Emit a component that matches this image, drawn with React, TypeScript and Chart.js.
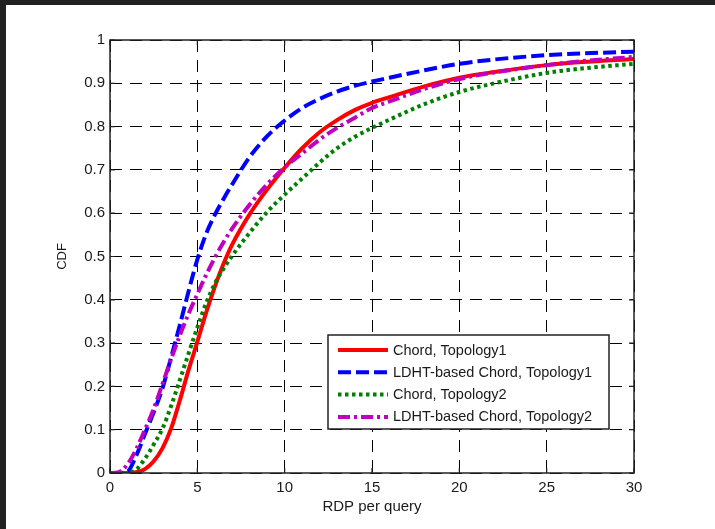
import React, { useEffect, useRef } from "react";
import { Chart, registerables } from "chart.js";

Chart.register(...registerables);

// RDP per query (x) sample positions
const rdpValues = [0, 0.5, 1, 1.5, 2, 2.5, 3, 3.5, 4, 4.5, 5, 5.5, 6, 6.5, 7, 8, 9, 10, 11, 12, 13, 14, 15, 16, 18, 20, 22, 25, 27, 30];

// CDF values
const chordTopology1 = [0, 0, 0, 0.002, 0.009, 0.027, 0.057, 0.103, 0.168, 0.238, 0.303, 0.37, 0.43, 0.483, 0.528, 0.598, 0.655, 0.705, 0.75, 0.787, 0.815, 0.838, 0.855, 0.868, 0.893, 0.913, 0.926, 0.942, 0.949, 0.956];
const ldhtTopology1 = [0, 0, 0.003, 0.04, 0.09, 0.14, 0.195, 0.267, 0.342, 0.42, 0.493, 0.552, 0.596, 0.633, 0.667, 0.73, 0.778, 0.814, 0.843, 0.864, 0.881, 0.894, 0.904, 0.913, 0.93, 0.945, 0.955, 0.965, 0.969, 0.973];
const chordTopology2 = [0, 0, 0, 0.008, 0.033, 0.066, 0.102, 0.155, 0.215, 0.276, 0.336, 0.392, 0.437, 0.472, 0.502, 0.555, 0.603, 0.643, 0.68, 0.717, 0.75, 0.776, 0.797, 0.816, 0.852, 0.88, 0.9, 0.924, 0.934, 0.945];
const ldhtTopology2 = [0, 0.002, 0.02, 0.055, 0.1, 0.148, 0.205, 0.263, 0.318, 0.368, 0.413, 0.457, 0.497, 0.533, 0.565, 0.62, 0.667, 0.706, 0.738, 0.77, 0.797, 0.82, 0.843, 0.858, 0.887, 0.91, 0.925, 0.942, 0.951, 0.961];

const seriesLabels = ["Chord, Topology1", "LDHT-based Chord, Topology1", "Chord, Topology2", "LDHT-based Chord, Topology2"];

const xTickValues = [0, 5, 10, 15, 20, 25, 30];
const xTickLabels = ["0", "5", "10", "15", "20", "25", "30"];
const yTickValues = [0, 0.1, 0.2, 0.3, 0.4, 0.5, 0.6, 0.7, 0.8, 0.9, 1];
const yTickLabels = ["0", "0.1", "0.2", "0.3", "0.4", "0.5", "0.6", "0.7", "0.8", "0.9", "1"];

const xTitle = "RDP per query";
const yTitle = "CDF";

const FONT = "'Liberation Sans', Arial, Helvetica, sans-serif";
const TEXT = "#1a1a1a";

const framePlugin = {
  id: "matlabFrame",
  afterDatasetsDraw(chart: any) {
    const { ctx, chartArea: a, scales } = chart;
    const x = scales.x;
    const y = scales.y;
    ctx.save();
    ctx.setLineDash([]);
    ctx.strokeStyle = "#222";
    ctx.lineWidth = 1.5;
    ctx.strokeRect(a.left, a.top, a.right - a.left, a.bottom - a.top);
    ctx.beginPath();
    ctx.lineWidth = 1.2;
    x.ticks.forEach((t: any) => {
      const px = x.getPixelForValue(t.value);
      ctx.moveTo(px, a.bottom);
      ctx.lineTo(px, a.bottom - 5);
      ctx.moveTo(px, a.top);
      ctx.lineTo(px, a.top + 5);
    });
    y.ticks.forEach((t: any) => {
      const py = y.getPixelForValue(t.value);
      ctx.moveTo(a.left, py);
      ctx.lineTo(a.left + 5, py);
      ctx.moveTo(a.right, py);
      ctx.lineTo(a.right - 5, py);
    });
    ctx.stroke();
    ctx.restore();
  },
};

const legendPlugin = {
  id: "boxLegend",
  afterDraw(chart: any) {
    const { ctx, chartArea: a } = chart;
    const w = 281;
    const h = 94;
    const x0 = a.right - 25 - w;
    const y0 = a.bottom - 44 - h;
    ctx.save();
    ctx.fillStyle = "#ffffff";
    ctx.fillRect(x0, y0, w, h);
    ctx.setLineDash([]);
    ctx.strokeStyle = "#222";
    ctx.lineWidth = 1.5;
    ctx.strokeRect(x0, y0, w, h);
    ctx.font = `14.5px ${FONT}`;
    ctx.textBaseline = "middle";
    ctx.textAlign = "left";
    chart.data.datasets.forEach((ds: any, i: number) => {
      const yy = y0 + 15 + i * 22.3;
      ctx.beginPath();
      ctx.setLineDash(ds.borderDash || []);
      ctx.lineWidth = ds.borderWidth;
      ctx.strokeStyle = ds.borderColor;
      ctx.moveTo(x0 + 10, yy);
      ctx.lineTo(x0 + 60, yy);
      ctx.stroke();
      ctx.setLineDash([]);
      ctx.fillStyle = TEXT;
      ctx.fillText(ds.label, x0 + 65, yy + 0.5);
    });
    ctx.restore();
  },
};

export default function App() {
  const canvasRef = useRef<HTMLCanvasElement | null>(null);

  useEffect(() => {
    const canvas = canvasRef.current;
    if (!canvas) return;
    const mk = (vals: number[]) => rdpValues.map((x, i) => ({ x, y: vals[i] }));
    const chart = new Chart(canvas, {
      type: "line",
      data: {
        datasets: [
          {
            label: seriesLabels[0],
            data: mk(chordTopology1),
            borderColor: "#ff0000",
            borderWidth: 4,
            borderDash: [],
            order: 4,
          },
          {
            label: seriesLabels[1],
            data: mk(ldhtTopology1),
            borderColor: "#0000ff",
            borderWidth: 4,
            borderDash: [13, 5],
            order: 3,
          },
          {
            label: seriesLabels[2],
            data: mk(chordTopology2),
            borderColor: "#008000",
            borderWidth: 4,
            borderDash: [3.5, 3.5],
            order: 2,
          },
          {
            label: seriesLabels[3],
            data: mk(ldhtTopology2),
            borderColor: "#c000c0",
            borderWidth: 4,
            borderDash: [12, 4, 3, 4],
            order: 1,
          },
        ] as any,
      },
      options: {
        animation: false,
        responsive: false,
        maintainAspectRatio: false,
        parsing: true,
        elements: {
          point: { radius: 0, hoverRadius: 0 },
          line: { cubicInterpolationMode: "monotone", fill: false, borderCapStyle: "butt" },
        },
        layout: { padding: { left: 0, top: 40, right: 81, bottom: 0 } },
        plugins: {
          legend: { display: false },
          tooltip: { enabled: false },
        },
        scales: {
          x: {
            type: "linear",
            min: 0,
            max: 30,
            afterBuildTicks: (s: any) => {
              s.ticks = xTickValues.map((v) => ({ value: v }));
            },
            afterFit: (s: any) => {
              s.height = 56;
            },
            ticks: {
              padding: 6,
              color: TEXT,
              font: { family: FONT, size: 15 },
              maxRotation: 0,
              callback: (v: any) => {
                const i = xTickValues.indexOf(Number(v));
                return i >= 0 ? xTickLabels[i] : "";
              },
            },
            grid: { color: "#000", lineWidth: 1, drawTicks: false, tickLength: 0 },
            border: { display: false, dash: [12, 8] },
            title: {
              display: true,
              text: xTitle,
              color: TEXT,
              font: { family: FONT, size: 15 },
              padding: { top: 0, bottom: 13 },
            },
          },
          y: {
            type: "linear",
            min: 0,
            max: 1,
            afterBuildTicks: (s: any) => {
              s.ticks = yTickValues.map((v) => ({ value: v }));
            },
            afterFit: (s: any) => {
              s.width = 110;
            },
            ticks: {
              padding: 5,
              color: TEXT,
              font: { family: FONT, size: 15 },
              callback: (v: any) => {
                const i = yTickValues.findIndex((t) => Math.abs(t - Number(v)) < 1e-9);
                return i >= 0 ? yTickLabels[i] : "";
              },
            },
            grid: { color: "#000", lineWidth: 1, drawTicks: false, tickLength: 0 },
            border: { display: false, dash: [12, 8] },
            title: {
              display: true,
              text: yTitle,
              color: TEXT,
              font: { family: FONT, size: 13 },
              padding: { top: 55, bottom: 0 },
            },
          },
        },
      } as any,
      plugins: [framePlugin, legendPlugin],
    });
    return () => chart.destroy();
  }, []);

  return (
    <div style={{ position: "fixed", left: 0, top: 0, width: 715, height: 529, background: "#ffffff", overflow: "hidden" }}>
      <div style={{ position: "absolute", left: 0, top: 0, width: 715, height: 5, background: "#212121" }} />
      <div style={{ position: "absolute", left: 0, top: 0, width: 6, height: 529, background: "#212121" }} />
      <canvas ref={canvasRef} width={715} height={529} style={{ position: "absolute", left: 0, top: 0, width: 715, height: 529 }} />
    </div>
  );
}
